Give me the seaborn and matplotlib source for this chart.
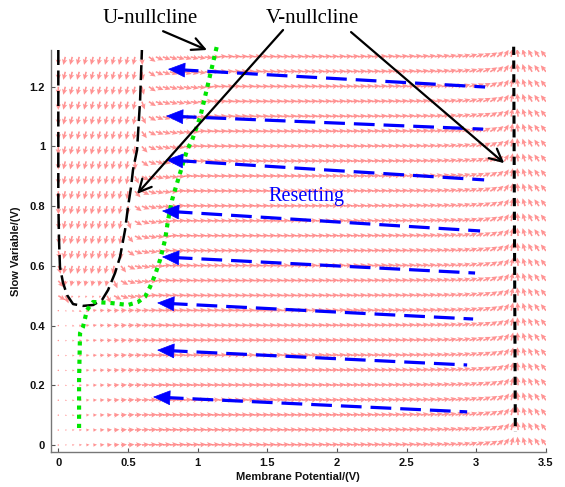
import numpy as np
import matplotlib
matplotlib.use("Agg")
import matplotlib.pyplot as plt
import seaborn as sns
import pandas as pd

# ---------------- data ----------------
# grid of the direction field (membrane potential / slow variable)
field_v = np.round(np.arange(0.0, 3.5001, 0.05), 3)
field_u = np.round(np.arange(0.0, 1.3001, 0.05), 3)

# black dashed U-shaped nullcline
unull_v = [0.000, 0.000, 0.000, 0.005, 0.012, 0.034, 0.063, 0.106, 0.178, 0.250, 0.314,
           0.357, 0.407, 0.443, 0.479, 0.500, 0.522, 0.536, 0.565, 0.587, 0.600]
unull_u = [1.323, 0.988, 0.821, 0.687, 0.596, 0.543, 0.502, 0.472, 0.466, 0.469, 0.486,
           0.519, 0.576, 0.630, 0.720, 0.797, 0.864, 0.921, 0.988, 1.155, 1.323]

# black dashed vertical nullcline
vert_v = [3.268, 3.280]
vert_u = [1.334, 0.044]

# green dotted nullcline
green_v = [0.149, 0.149, 0.156, 0.177, 0.206, 0.249, 0.371, 0.500, 0.572, 0.622, 0.658,
           0.694, 0.730, 0.766, 0.788, 0.816, 0.852, 0.924, 0.960, 1.018, 1.076, 1.140]
green_u = [0.057, 0.218, 0.375, 0.395, 0.452, 0.479, 0.476, 0.469, 0.479, 0.496, 0.529,
           0.569, 0.620, 0.687, 0.754, 0.820, 0.877, 0.988, 1.021, 1.098, 1.212, 1.340]

# blue "Resetting" arrows (tip on the left, tail on the right)
reset_tip_v = [0.787, 0.773, 0.773, 0.744, 0.744, 0.709, 0.709, 0.680]
reset_tip_u = [1.259, 1.102, 0.955, 0.784, 0.630, 0.476, 0.318, 0.161]
reset_tail_v = [3.063, 3.049, 3.056, 3.027, 2.991, 2.977, 2.934, 2.934]
reset_tail_u = [1.199, 1.058, 0.888, 0.717, 0.576, 0.422, 0.268, 0.111]

# annotation texts and pointer arrows
label_texts = ["U-nullcline", "V-nullcline"]
label_v = [0.658, 1.821]
label_u = [1.430, 1.430]
pointer_tail_v = [0.752, 1.613, 2.101]
pointer_tail_u = [1.386, 1.390, 1.383]
pointer_tip_v = [1.067, 0.565, 3.200]
pointer_tip_u = [1.323, 0.841, 0.944]
reset_text = "Resetting"
reset_text_v, reset_text_u = 1.778, 0.831

x_ticks = [0, 0.5, 1, 1.5, 2, 2.5, 3, 3.5]
x_ticklabels = ["0", "0.5", "1", "1.5", "2", "2.5", "3", "3.5"]
y_ticks = [0, 0.2, 0.4, 0.6, 0.8, 1.0, 1.2]
y_ticklabels = ["0", "0.2", "0.4", "0.6", "0.8", "1", "1.2"]
x_label = "Membrane Potential/(V)"
y_label = "Slow Variable/(V)"

# ---------------- figure ----------------
sns.set_style("ticks")
plt.rcParams["font.family"] = ["Liberation Sans", "DejaVu Sans"]

fig = plt.figure(figsize=(5.65, 4.87), dpi=100)
ax = fig.add_axes([50.7 / 565, 1 - 452 / 487, (546 - 50.7) / 565, (452 - 50) / 487])
ax.set_xlim(-0.0546, 3.5)
ax.set_ylim(-0.0234, 1.323)

# ---- direction field (orientation from nullcline geometry) ----
VV, UU = np.meshgrid(field_v, field_u)
uv = np.array(unull_v); uu = np.array(unull_u)
imin = int(np.argmin(uu))
umin = uu[imin]
vL = np.interp(UU, uu[:imin + 1][::-1], uv[:imin + 1][::-1])
vR = np.interp(UU, uu[imin:], uv[imin:])
d = np.minimum(np.minimum(VV - vL, vR - VV), UU - umin)
F_in = np.where(d > 0, -0.08 * np.tanh(d / 0.03), np.tanh(-d / 0.12))
vT = np.interp(UU, vert_u[::-1], vert_v[::-1])
side = np.where(VV < vT, np.tanh((vT - VV) / 1.2), 0.1 * np.tanh((vT - VV) / 0.25))
F = F_in * side

gv = np.array(green_v); gu = np.array(green_u)
above = UU > np.interp(VV, gv, gu)
gu_mono = np.maximum.accumulate(gu)
h = np.interp(UU, gu_mono, gv)
dv = h - VV
G = np.where(above, -0.3 * np.tanh(np.maximum(dv, 0.02) / 0.15), 0.09)

n = np.hypot(F, G) + 1e-9
m = np.ones_like(VV)
low = UU < 0.47
m = np.where(low, np.clip(0.15 + VV / 0.8, 0.15, 1.0), m)
m = np.where(d > 0, np.clip((UU - umin) / 0.12, 0.3, 1.0), m)
Ux = F / n * m
Uy = G / n * m

ax.quiver(VV, UU, Ux, Uy, angles="uv", pivot="tail", scale_units="inches", scale=12,
          units="dots", width=1.6, headwidth=3.4, headlength=3.6, headaxislength=3.0,
          color="#ff3b3b", alpha=0.55, zorder=1)

# ---- nullclines ----
sns.lineplot(x=unull_v, y=unull_u, sort=False, estimator=None, color="black",
             linewidth=1.8, ax=ax, zorder=4)
ln = ax.lines[-1]; ln.set_dashes([6, 2.2]); ln.set_clip_on(False)

sns.lineplot(x=vert_v, y=vert_u, sort=False, estimator=None, color="black",
             linewidth=2.2, ax=ax, zorder=4)
ln = ax.lines[-1]; ln.set_dashes([2.7, 1.8]); ln.set_clip_on(False)

sns.lineplot(x=green_v, y=green_u, sort=False, estimator=None, color="#00e600",
             linewidth=3.0, ax=ax, zorder=5)
ln = ax.lines[-1]; ln.set_dashes([1.0, 1.2]); ln.set_dash_capstyle("butt"); ln.set_clip_on(False)

# ---- blue resetting arrows ----
for tv, tu, sv, su in zip(reset_tip_v, reset_tip_u, reset_tail_v, reset_tail_u):
    slope = (su - tu) / (sv - tv)
    sns.lineplot(x=[tv + 0.07, sv], y=[tu + slope * 0.07, su], sort=False, estimator=None,
                 color="#0000ff", linewidth=2.3, ax=ax, zorder=6)
    ln = ax.lines[-1]; ln.set_dashes([6.5, 2.8]); ln.set_dash_capstyle("butt")
    ax.annotate("", xy=(tv, tu), xytext=(tv + 0.15, tu + slope * 0.15),
                arrowprops=dict(arrowstyle="-|>,head_length=1.15,head_width=0.5",
                                color="#0000ff", lw=0.5, shrinkA=0, shrinkB=0,
                                mutation_scale=10), zorder=7)

# ---- annotations ----
for tx, lvv, luu in zip(label_texts, label_v, label_u):
    ax.text(lvv, luu, tx, ha="center", va="center", fontsize=15,
            family=["Liberation Serif", "DejaVu Serif"], color="black", clip_on=False)
for sv, su, tv, tu in zip(pointer_tail_v, pointer_tail_u, pointer_tip_v, pointer_tip_u):
    ax.annotate("", xy=(tv, tu), xytext=(sv, su), annotation_clip=False,
                arrowprops=dict(arrowstyle="->,head_length=0.9,head_width=0.45",
                                color="black", lw=1.6, shrinkA=0, shrinkB=0,
                                mutation_scale=10), zorder=8)
ax.text(reset_text_v, reset_text_u, reset_text, ha="center", va="center", fontsize=14.5,
        family=["Liberation Serif", "DejaVu Serif"], color="#0000ff", zorder=8)

# ---- axes styling ----
ax.set_xticks(x_ticks)
ax.set_xticklabels(x_ticklabels)
ax.set_yticks(y_ticks)
ax.set_yticklabels(y_ticklabels)
ax.tick_params(direction="in", length=3, width=0.8, colors="#555555", labelcolor="#111111",
               labelsize=8, pad=4)
for lab in ax.get_xticklabels() + ax.get_yticklabels():
    lab.set_fontweight("bold")
ax.set_xlabel(x_label, fontsize=8, fontweight="bold", color="#111111", labelpad=3)
ax.set_ylabel(y_label, fontsize=8, fontweight="bold", color="#111111", labelpad=6)
for s in ["top", "right"]:
    ax.spines[s].set_visible(False)
for s in ["left", "bottom"]:
    ax.spines[s].set_color("#777777")
    ax.spines[s].set_linewidth(1.0)
ax.set_facecolor("white")
fig.patch.set_facecolor("white")

fig.savefig("out.png", dpi=100)
